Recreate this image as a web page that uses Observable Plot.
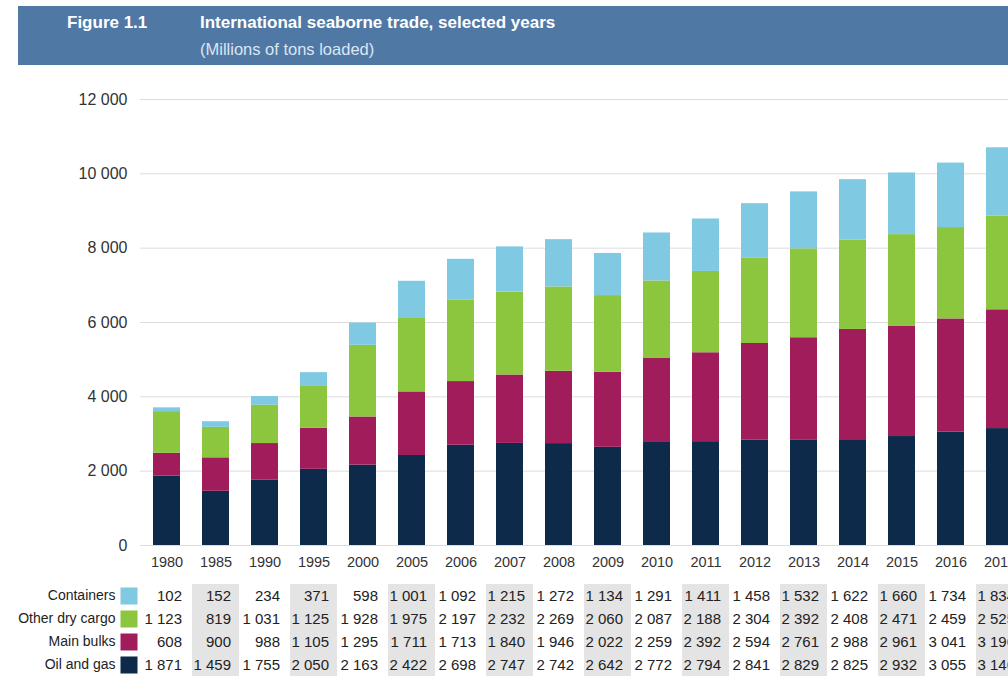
<!DOCTYPE html>
<html>
<head>
<meta charset="utf-8">
<script src="https://cdn.jsdelivr.net/npm/d3@7"></script>
<script src="https://cdn.jsdelivr.net/npm/@observablehq/plot@0.6"></script>
<style>
  html, body { margin: 0; padding: 0; background: #fff; }
  body { width: 1008px; height: 681px; overflow: hidden; font-family: "Liberation Sans", Arial, Helvetica, sans-serif; }
  #wrap { position: relative; width: 1008px; height: 681px; overflow: hidden; }
  #header { position: absolute; left: 18px; top: 6px; width: 1010px; height: 59px; background: #4f78a5; }
  .h { position: absolute; white-space: nowrap; line-height: 20px; }
  #fig { left: 49px; top: 7px; font-size: 17px; font-weight: bold; color: #fff; }
  #title { left: 182px; top: 7px; font-size: 17px; font-weight: bold; color: #fff; }
  #subtitle { left: 182px; top: 33px; font-size: 16.5px; color: #dbe6f2; }
  #chart { position: absolute; left: 0; top: 80px; width: 1040px; }
  #table { position: absolute; left: 0; top: 575px; width: 1040px; }
  #chart svg, #table svg { max-width: none !important; }
</style>
</head>
<body>
<div id="wrap">
  <div id="header">
    <div class="h" id="fig">Figure 1.1</div>
    <div class="h" id="title">International seaborne trade, selected years</div>
    <div class="h" id="subtitle">(Millions of tons loaded)</div>
  </div>
  <div id="chart"></div>
  <div id="table"></div>
</div>
<script>
// ---- Data (millions of tons loaded) ----
const years = ["1980","1985","1990","1995","2000","2005","2006","2007","2008","2009","2010","2011","2012","2013","2014","2015","2016","2017"];
const seriesNames = ["Containers", "Other dry cargo", "Main bulks", "Oil and gas"];
const containers = [102, 152, 234, 371, 598, 1001, 1092, 1215, 1272, 1134, 1291, 1411, 1458, 1532, 1622, 1660, 1734, 1834];
const otherDryCargo = [1123, 819, 1031, 1125, 1928, 1975, 2197, 2232, 2269, 2060, 2087, 2188, 2304, 2392, 2408, 2471, 2459, 2525];
const mainBulks = [608, 900, 988, 1105, 1295, 1711, 1713, 1840, 1946, 2022, 2259, 2392, 2594, 2761, 2988, 2961, 3041, 3196];
const oilAndGas = [1871, 1459, 1755, 2050, 2163, 2422, 2698, 2747, 2742, 2642, 2772, 2794, 2841, 2829, 2825, 2932, 3055, 3146];
const yTicks = [0, 2000, 4000, 6000, 8000, 10000, 12000];
const seriesColors = ["#7fc9e2", "#8cc63f", "#a11c5b", "#0e2a4b"];

// ---- Build tables ----
const seriesValues = {
  "Oil and gas": oilAndGas,
  "Main bulks": mainBulks,
  "Other dry cargo": otherDryCargo,
  "Containers": containers
};
// stacking order: bottom to top
const stackOrder = ["Oil and gas", "Main bulks", "Other dry cargo", "Containers"];
const rows = [];
for (const s of stackOrder) {
  years.forEach((y, i) => rows.push({ year: y, series: s, value: seriesValues[s][i] }));
}
const shadedCells = [];
years.forEach((y, i) => { if (i % 2 === 1) seriesNames.forEach(s => shadedCells.push({ year: y, series: s })); });

const locale = d3.formatLocale({ decimal: ".", thousands: "\u00a0", grouping: [3], currency: ["", ""] });
const fmt = locale.format(",d");

const font = '"Liberation Sans", Arial, Helvetica, sans-serif';
const W = 1040, ML = 140, MR = 13.9;
const padInner = 0.45, padOuter = 0.266;

const chart = Plot.plot({
  width: W, height: 495,
  marginLeft: ML, marginRight: MR, marginTop: 19, marginBottom: 30,
  style: { fontFamily: font, fontSize: "14.5px", color: "#333", background: "transparent", maxWidth: "none" },
  x: { type: "band", domain: years, paddingInner: padInner, paddingOuter: padOuter, label: null },
  y: { domain: [0, 12000], label: null },
  color: { domain: seriesNames, range: seriesColors },
  marks: [
    Plot.gridY(yTicks, { stroke: "#dcdcdc", strokeOpacity: 1 }),
    Plot.barY(rows, { x: "year", y: "value", fill: "series" }),
    Plot.axisX({ tickSize: 0, tickPadding: 11, fontSize: 14.5, fill: "#333" }),
    Plot.axisY({ ticks: yTicks, tickSize: 0, tickPadding: 13, tickFormat: fmt, fontSize: 16, fill: "#333" })
  ]
});
document.getElementById("chart").appendChild(chart);

const padInner2 = 0.04, padOuter2 = padOuter - (padInner - padInner2) / 2;
const table = Plot.plot({
  width: W, height: 106,
  marginLeft: ML, marginRight: MR, marginTop: 8, marginBottom: 4,
  style: { fontFamily: font, fontSize: "15px", color: "#222", background: "transparent", maxWidth: "none" },
  x: { type: "band", domain: years, paddingInner: padInner2, paddingOuter: padOuter2, axis: null },
  y: { type: "band", domain: seriesNames, padding: 0, label: null },
  color: { domain: seriesNames, range: seriesColors },
  marks: [
    Plot.cell(shadedCells, { x: "year", y: "series", fill: "#e4e4e4" }),
    Plot.text(rows, { x: "year", y: "series", text: d => fmt(d.value), textAnchor: "end", dx: 15, fontSize: 15, fill: "#222" }),
    Plot.axisY({ anchor: "left", tickSize: 0, tickPadding: 25, fontSize: 14, fill: "#222" }),
    Plot.dot(seriesNames, { y: d => d, fill: d => d, symbol: "square", r: 9.6, frameAnchor: "left", dx: -11.5 })
  ]
});
document.getElementById("table").appendChild(table);
</script>
</body>
</html>
